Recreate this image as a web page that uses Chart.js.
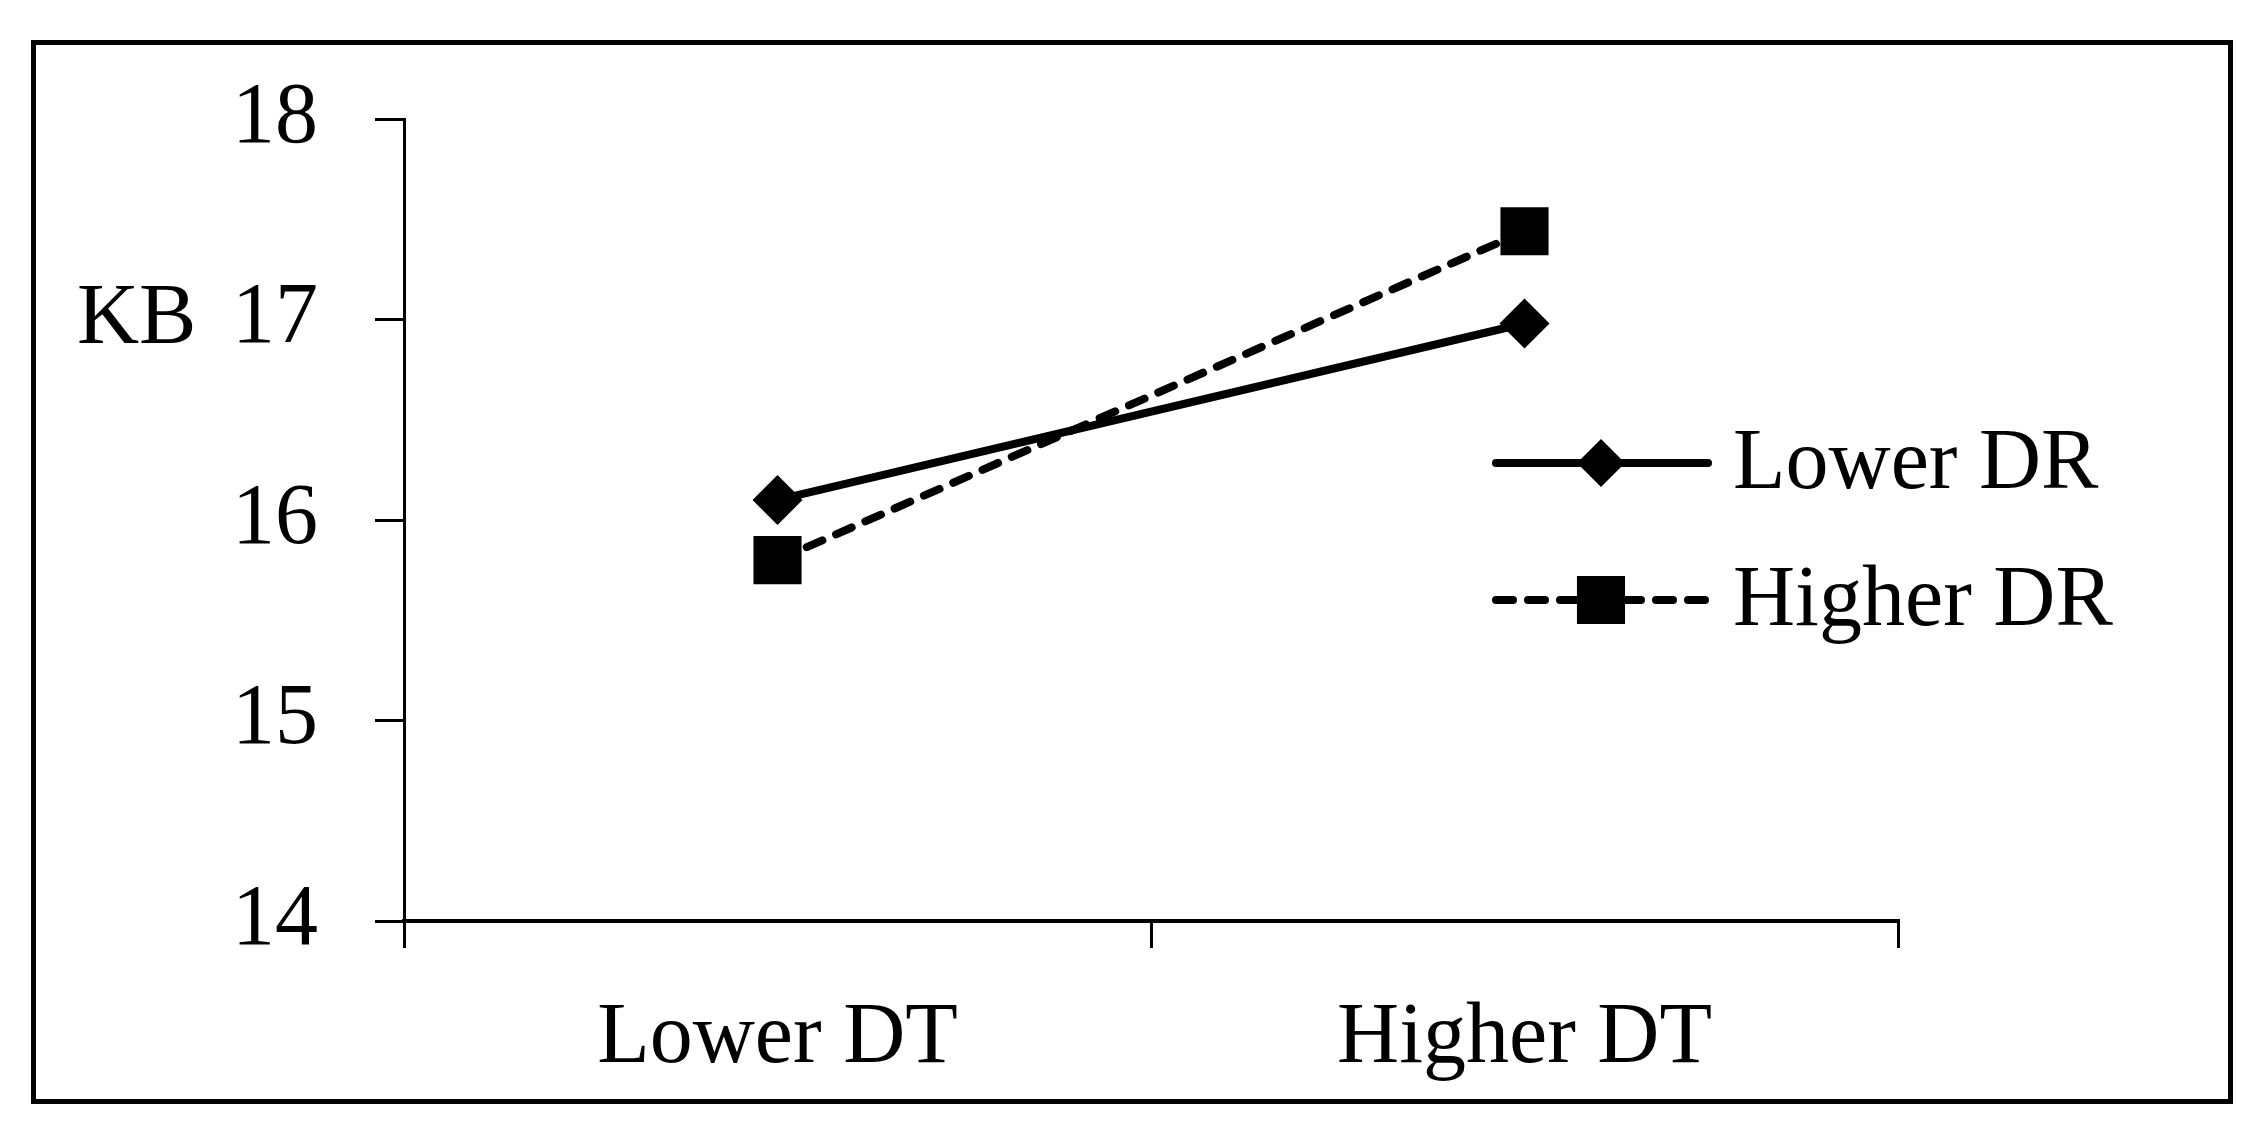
<html>
<script src="https://cdn.jsdelivr.net/npm/chart.js"></script>
<style>
    body { margin: 0; background: #fff; }
    #frame { position: absolute; left: 31px; top: 40px; width: 2192px; height: 1054px; border: 5px solid #000; }
    canvas { position: absolute; left: 0; top: 0; }
</style>
<body>

    <div id="frame"></div>
    <canvas id="myChart" width="2259" height="1130"></canvas>

    <script>
        // values
        let categories = ["Lower DT", "Higher DT"];
        let lowerDR = [16.10, 16.98];
        let higherDR = [15.80, 17.44];
        let seriesNames = ["Lower DR", "Higher DR"];
        let yTicks = [14, 15, 16, 17, 18];
        let yTitle = "KB";

        Chart.defaults.font.family = "'Liberation Serif', 'Times New Roman', serif";
        Chart.defaults.font.size = 86;
        Chart.defaults.color = "#000";

        // horizontal "KB" label beside the 17 tick, and the legend inside the plot
        const extras = {
            id: "extras",
            afterDraw(chart) {
                const ctx = chart.ctx;
                const y = chart.scales.y;
                ctx.save();
                ctx.fillStyle = "#000";
                ctx.font = "86px 'Liberation Serif', serif";
                ctx.textAlign = "left";
                ctx.textBaseline = "alphabetic";
                ctx.fillText(yTitle, 77, y.getPixelForValue(17) + 23);

                const rows = [463, 600];
                chart.data.datasets.forEach((ds, i) => {
                    const ly = rows[i];
                    ctx.strokeStyle = "#000";
                    ctx.lineWidth = ds.borderWidth;
                    ctx.lineCap = "round";
                    ctx.setLineDash(ds.borderDash || []);
                    ctx.beginPath();
                    ctx.moveTo(1496, ly);
                    ctx.lineTo(1708, ly);
                    ctx.stroke();
                    ctx.setLineDash([]);
                    ctx.fillStyle = "#000";
                    Chart.helpers.drawPoint(ctx, {
                        pointStyle: ds.pointStyle,
                        radius: ds.legendRadius,
                        rotation: 0,
                        borderWidth: 0
                    }, 1601, ly);
                    ctx.fillStyle = "#000";
                    ctx.textBaseline = "middle";
                    ctx.fillText(ds.label, 1733, ly + 2);
                });
                ctx.restore();
            }
        };

        new Chart("myChart", {
            type: "line",
            data: {
                labels: categories,
                datasets: [{
                    label: seriesNames[0],
                    data: lowerDR,
                    borderColor: "#000",
                    backgroundColor: "#000",
                    borderWidth: 8,
                    borderCapStyle: "round",
                    pointStyle: "rectRot",
                    pointRadius: 25,
                    pointBorderWidth: 0,
                    legendRadius: 24,
                    tension: 0
                }, {
                    label: seriesNames[1],
                    data: higherDR,
                    borderColor: "#000",
                    backgroundColor: "#000",
                    borderWidth: 8,
                    borderDash: [17, 15],
                    borderCapStyle: "round",
                    pointStyle: "rect",
                    pointRadius: 34,
                    pointBorderWidth: 0,
                    legendRadius: 34,
                    tension: 0
                }]
            },
            options: {
                responsive: false,
                devicePixelRatio: 1,
                animation: false,
                layout: { padding: { left: 0, top: 119, right: 361, bottom: 0 } },
                plugins: {
                    legend: { display: false },
                    tooltip: { enabled: false }
                },
                scales: {
                    x: {
                        offset: true,
                        grid: { offset: true, drawOnChartArea: false, tickLength: 27, color: "#000", lineWidth: 3 },
                        border: { color: "#000", width: 4 },
                        ticks: { padding: 40, color: "#000" },
                        afterFit(scale) { scale.height = 209; }
                    },
                    y: {
                        min: yTicks[0],
                        max: yTicks[yTicks.length - 1],
                        afterBuildTicks(scale) { scale.ticks = yTicks.map(v => ({ value: v })); },
                        grid: { drawOnChartArea: false, tickLength: 29, color: "#000", lineWidth: 3 },
                        border: { color: "#000", width: 3 },
                        ticks: { padding: 57, color: "#000" },
                        afterFit(scale) { scale.width = 404; }
                    }
                }
            },
            plugins: [extras]
        });
    </script>

</body>

</html>
